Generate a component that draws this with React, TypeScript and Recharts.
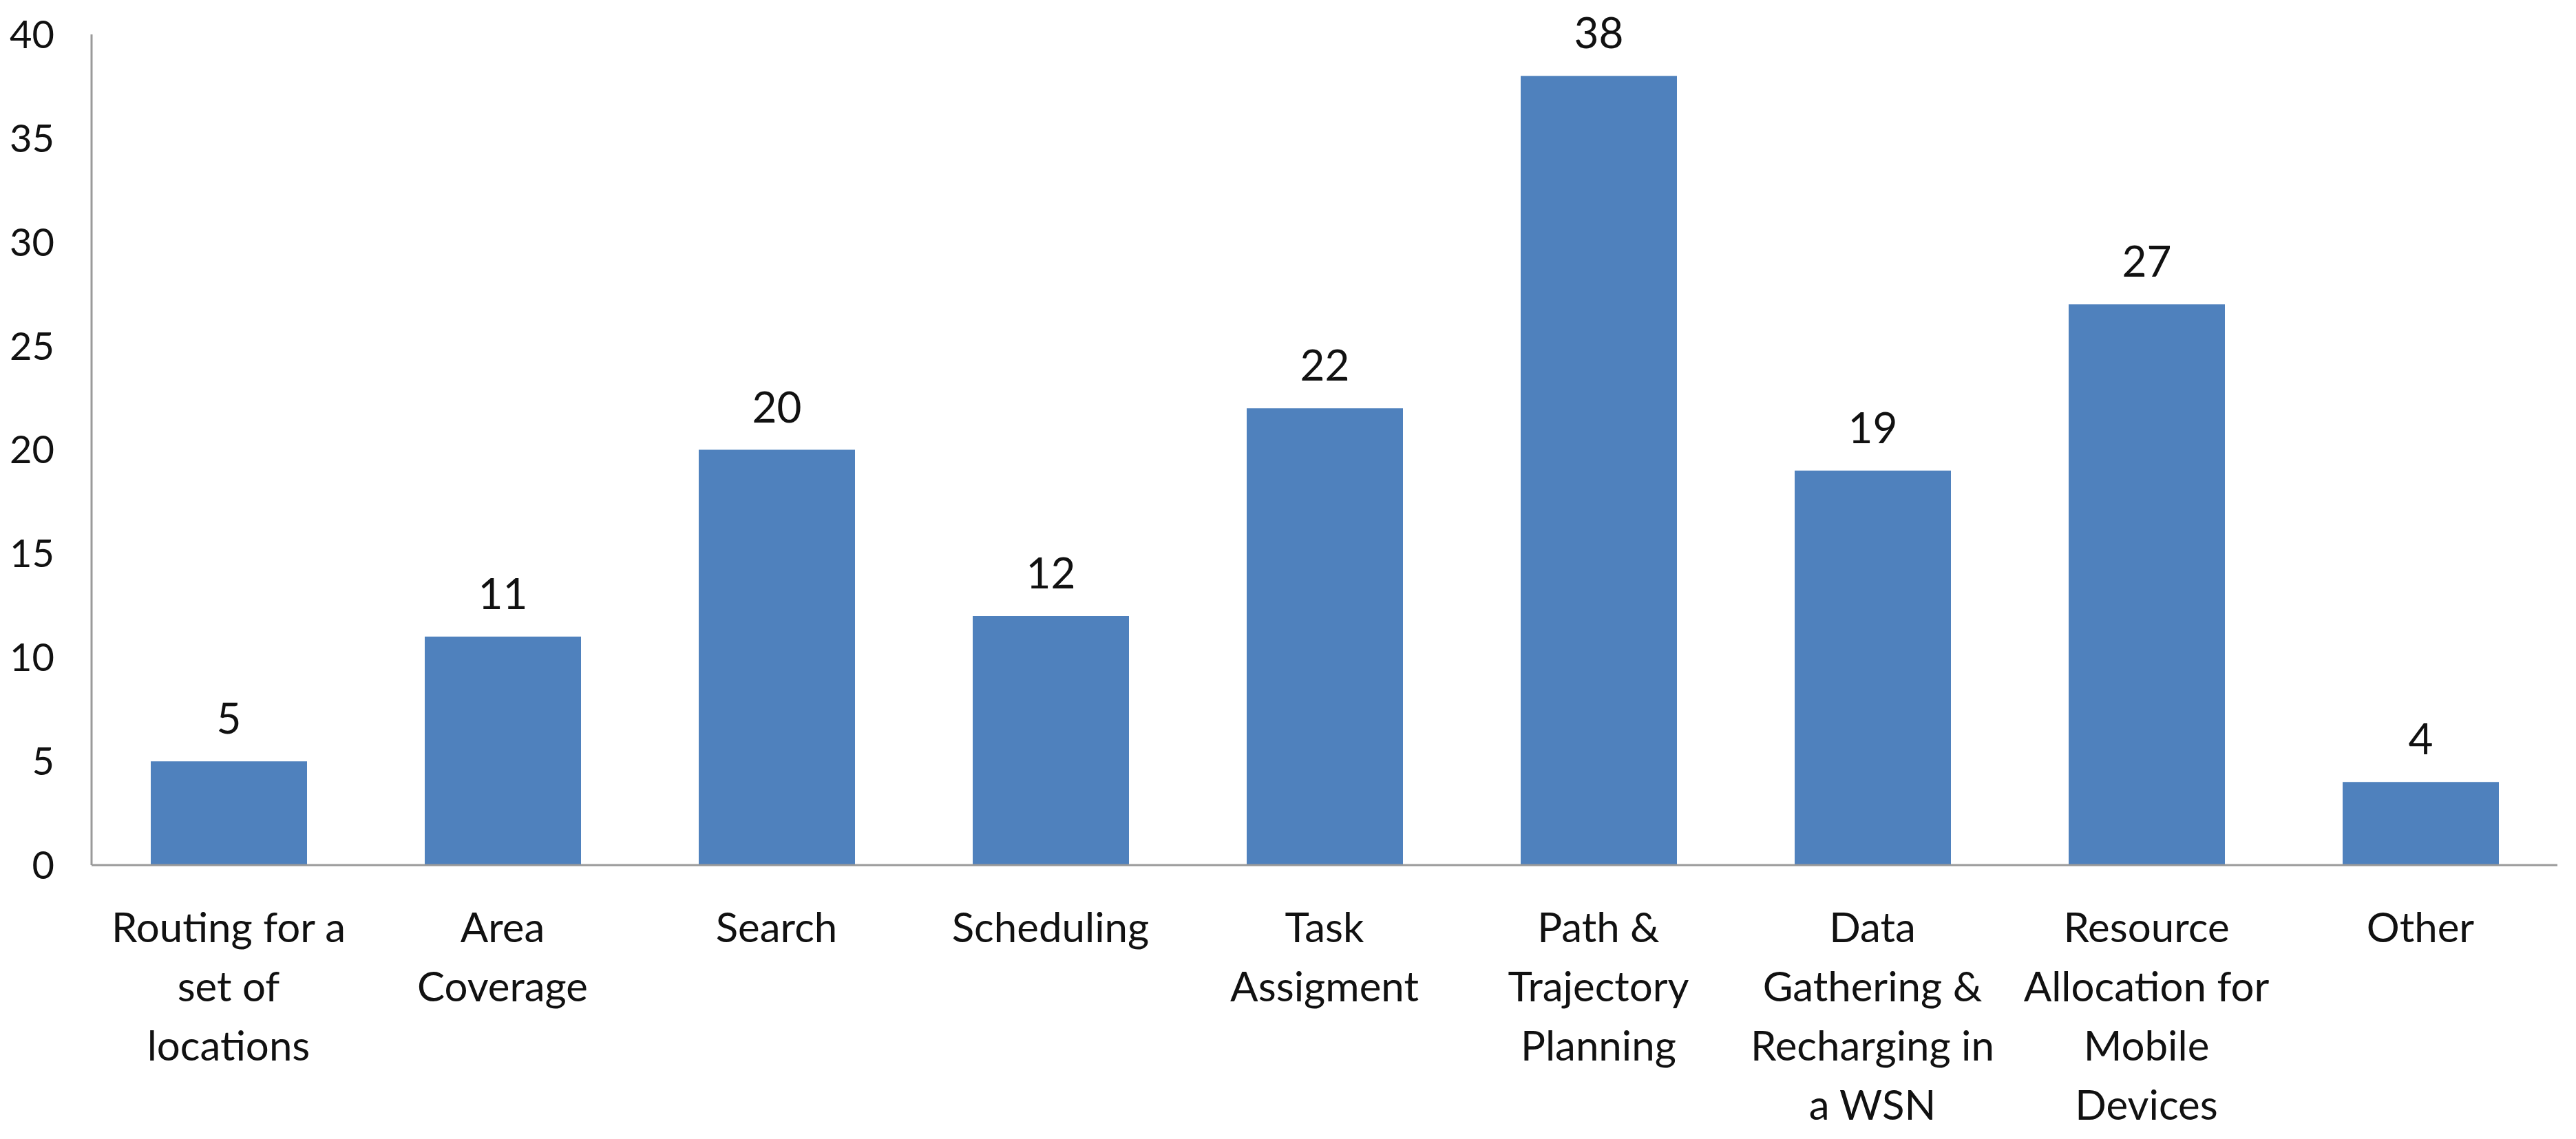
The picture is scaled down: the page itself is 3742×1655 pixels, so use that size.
import { BarChart, Bar, XAxis, YAxis, LabelList } from 'recharts';

const categories = [
  'Routing for a\nset of\nlocations',
  'Area\nCoverage',
  'Search',
  'Scheduling',
  'Task\nAssigment',
  'Path &\nTrajectory\nPlanning',
  'Data\nGathering &\nRecharging in\na WSN',
  'Resource\nAllocation for\nMobile\nDevices',
  'Other',
];
const counts = [5, 11, 20, 12, 22, 38, 19, 27, 4];
const yTicks = [0, 5, 10, 15, 20, 25, 30, 35, 40];

const data = categories.map((name, i) => ({ name, count: counts[i] }));

const font = 'Lato, Carlito, Calibri, sans-serif';

// multi-line category label under each bar
function CategoryTick(props: any) {
  const { x, y, payload } = props;
  const lines = String(payload.value).split('\n');
  return (
    <text x={x} y={y} textAnchor="middle" fill="#111" fontFamily={font} fontSize={60}>
      {lines.map((line, i) => (
        <tspan key={i} x={x} y={y + 104 + i * 86}>
          {line}
        </tspan>
      ))}
    </text>
  );
}

export default function App() {
  return (
    <div style={{ width: 3742, height: 1655, background: '#fff' }}>
      <style>{`body { margin: 0; }`}</style>
      <BarChart
        width={3742}
        height={1655}
        data={data}
        margin={{ top: 50, right: 27, bottom: 0, left: 0 }}
      >
        <XAxis
          dataKey="name"
          height={398}
          interval={0}
          tickLine={false}
          axisLine={{ stroke: '#9a9a9a', strokeWidth: 3 }}
          tick={<CategoryTick />}
        />
        <YAxis
          width={133}
          domain={[0, 40]}
          ticks={yTicks}
          interval={0}
          tickLine={false}
          tickSize={0}
          tickMargin={54}
          axisLine={{ stroke: '#9a9a9a', strokeWidth: 3 }}
          tick={{ fill: '#111', fontFamily: font, fontSize: 56 }}
        />
        <Bar dataKey="count" fill="#4f81bd" barSize={227} isAnimationActive={false}>
          <LabelList
            dataKey="count"
            position="top"
            offset={40}
            fill="#111"
            fontFamily={font}
            fontSize={62}
          />
        </Bar>
      </BarChart>
    </div>
  );
}
